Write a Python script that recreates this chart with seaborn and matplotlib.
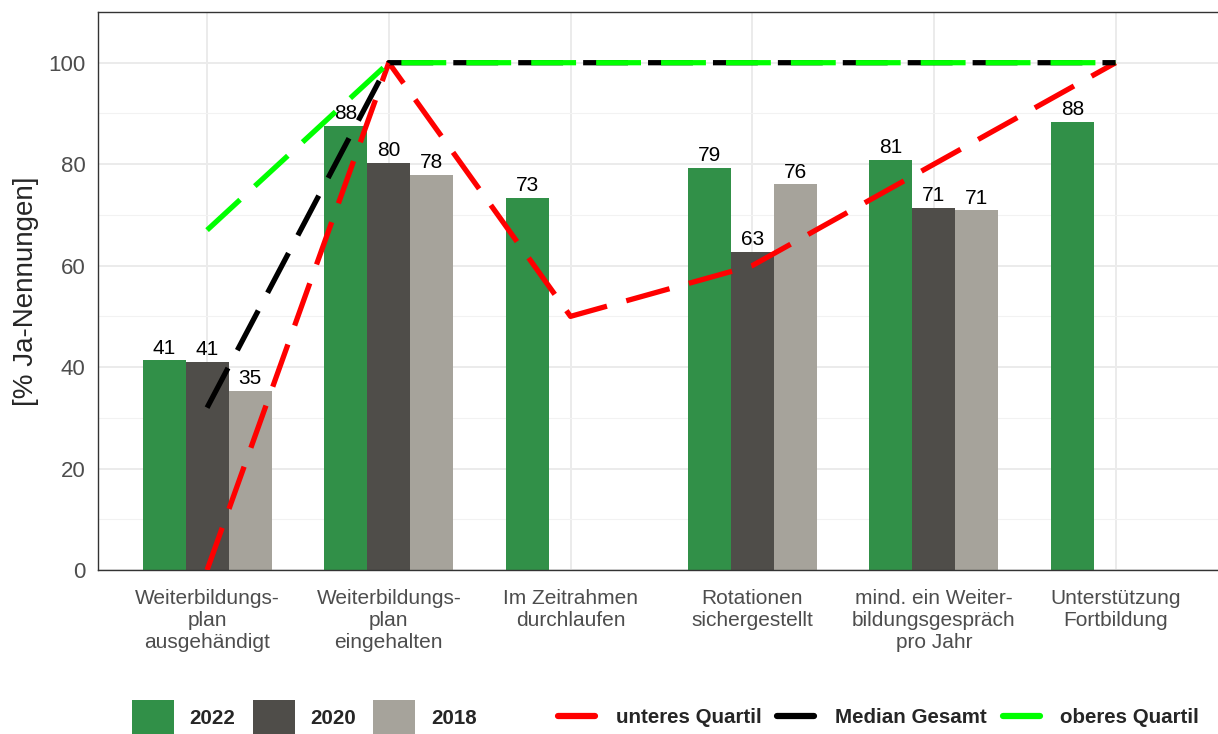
import numpy as np
import pandas as pd
import matplotlib
matplotlib.use('Agg')
import matplotlib.pyplot as plt
from matplotlib.patches import Patch
from matplotlib.lines import Line2D
import seaborn as sns

sns.set_style('white')
plt.rcParams['font.family'] = ['Liberation Sans', 'DejaVu Sans']

categories = ['Weiterbildungs-\nplan\nausgehändigt',
              'Weiterbildungs-\nplan\neingehalten',
              'Im Zeitrahmen\ndurchlaufen',
              'Rotationen\nsichergestellt',
              'mind. ein Weiter-\nbildungsgespräch\npro Jahr',
              'Unterstützung\nFortbildung']
years = ['2022', '2020', '2018']
vals_2022 = [41.3, 87.5, 73.3, 79.2, 80.8, 88.4]
vals_2020 = [41.1, 80.2, np.nan, 62.7, 71.4, np.nan]
vals_2018 = [35.3, 77.9, np.nan, 76.0, 70.9, np.nan]

unteres_quartil = [0, 100, 50, 60, 80, 100]
median_gesamt = [32, 100, 100, 100, 100, 100]
oberes_quartil = [67, 100, 100, 100, 100, 100]

year_colors = ['#319048', '#4F4D49', '#A6A39B']
line_colors = ['#FF0000', '#000000', '#00FF00']
line_names = ['unteres Quartil', 'Median Gesamt', 'oberes Quartil']

df = pd.DataFrame({
    'kategorie': categories * 3,
    'jahr': [y for y in years for _ in categories],
    'wert': vals_2022 + vals_2020 + vals_2018,
})

fig = plt.figure(figsize=(12.18, 7.34), dpi=100)
ax = fig.add_axes([0.0805, 0.2234, 0.925, 0.7603])

sns.barplot(data=df, x='kategorie', y='wert', hue='jahr', order=categories,
            hue_order=years, palette=year_colors, saturation=1, width=0.71,
            errorbar=None, legend=False, linewidth=0, ax=ax, zorder=2)

for c in ax.containers:
    ax.bar_label(c, fmt='%.0f', padding=2, fontsize=15, color='black')

xpos = np.arange(len(categories))
dash = (0, (8.5, 3.8))
for vals, col in zip([unteres_quartil, median_gesamt, oberes_quartil], line_colors):
    sns.lineplot(x=xpos, y=vals, color=col, linewidth=3.8, linestyle=dash,
                 ax=ax, zorder=3)

ax.set_xlim(-0.6, 5.6)
ax.set_ylim(0, 110)
ax.set_yticks([0, 20, 40, 60, 80, 100])
ax.set_yticks([10, 30, 50, 70, 90], minor=True)
ax.set_xticks(xpos)
ax.set_xticklabels(categories, linespacing=1.2)
ax.grid(True, which='major', color='#EBEBEB', linewidth=1.4, zorder=0)
ax.grid(True, which='minor', axis='y', color='#F2F2F2', linewidth=0.8, zorder=0)
ax.set_axisbelow(True)
for s in ax.spines.values():
    s.set_color('#333333')
    s.set_linewidth(1.0)
ax.tick_params(axis='x', labelsize=15, labelcolor='#4D4D4D', length=4,
               color='#333333', pad=10)
ax.tick_params(axis='y', labelsize=16, labelcolor='#4D4D4D', length=4,
               color='#333333', pad=5)
ax.tick_params(axis='y', which='minor', length=0)
ax.set_xlabel('')
ax.set_ylabel('[% Ja-Nennungen]', fontsize=20, labelpad=7)

bar_handles = [Patch(facecolor=c, edgecolor='none') for c in year_colors]
leg1 = fig.legend(bar_handles, years, loc='center left', bbox_to_anchor=(0.093, 0.022),
                  ncol=3, frameon=False, handlelength=2.04, handleheight=2.3,
                  handletextpad=0.78, columnspacing=0.83,
                  prop={'weight': 'bold', 'size': 14.8})
line_handles = [Line2D([0], [0], color=c, linewidth=4.5) for c in line_colors]
leg2 = fig.legend(line_handles, line_names, loc='center left', bbox_to_anchor=(0.443, 0.022),
                  ncol=3, frameon=False, handlelength=1.8, handletextpad=1.0,
                  columnspacing=0.78, prop={'weight': 'bold', 'size': 14.8})

fig.savefig('out.png', dpi=100)
